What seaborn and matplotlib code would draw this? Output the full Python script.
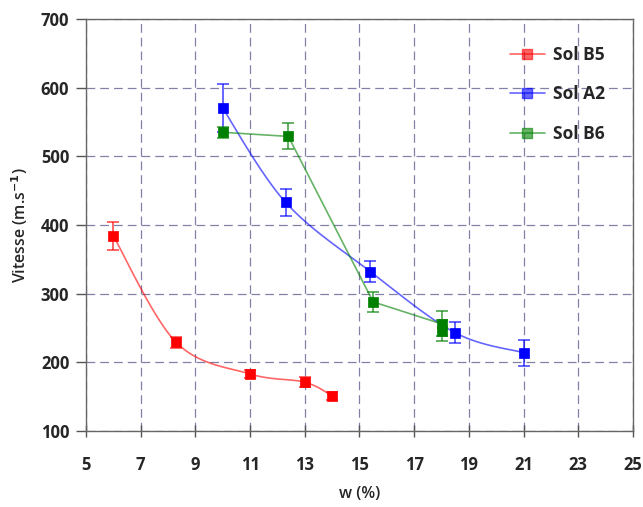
import numpy as np
import pandas as pd
import matplotlib
matplotlib.use("Agg")
import matplotlib.pyplot as plt
from matplotlib.lines import Line2D
import seaborn as sns

# data
b5_w = [6.0, 8.3, 11.0, 13.0, 14.0]
b5_v = [384, 229, 183, 171, 151]
b5_err = [20, 8, 6, 7, 6]

a2_w = [10.0, 12.3, 15.4, 18.5, 21.0]
a2_v = [570, 433, 332, 243, 214]
a2_err = [35, 20, 15, 15, 19]

b6_w = [10.0, 12.4, 15.5, 18.0, 18.0]
b6_v = [535, 529, 288, 256, 246]
b6_err = [8, 19, 15, 18, 15]

x_ticks = [5, 7, 9, 11, 13, 15, 17, 19, 21, 23, 25]
y_ticks = [100, 200, 300, 400, 500, 600, 700]


def smooth(x, y, n=30, t=0.5):
    # Excel-like smoothed line (cardinal spline through the points)
    x = np.asarray(x, float)
    y = np.asarray(y, float)
    px = np.concatenate([[x[0]], x, [x[-1]]])
    py = np.concatenate([[y[0]], y, [y[-1]]])
    xs, ys = [], []
    for i in range(1, len(px) - 2):
        s = np.linspace(0, 1, n)
        m1x = t * (px[i + 1] - px[i - 1])
        m1y = t * (py[i + 1] - py[i - 1])
        m2x = t * (px[i + 2] - px[i])
        m2y = t * (py[i + 2] - py[i])
        h00 = 2 * s**3 - 3 * s**2 + 1
        h10 = s**3 - 2 * s**2 + s
        h01 = -2 * s**3 + 3 * s**2
        h11 = s**3 - s**2
        xs.extend(h00 * px[i] + h10 * m1x + h01 * px[i + 1] + h11 * m2x)
        ys.extend(h00 * py[i] + h10 * m1y + h01 * py[i + 1] + h11 * m2y)
    return np.array(xs), np.array(ys)


sns.set_style("white")
plt.rcParams["font.family"] = ["Open Sans", "DejaVu Sans"]

fig = plt.figure(figsize=(6.43, 5.07), dpi=100)
ax = fig.add_axes([0.1337, 0.150, 0.8507, 0.8125])

series = [
    ("Sol B5", b5_w, b5_v, b5_err, "#ff0000", True),
    ("Sol A2", a2_w, a2_v, a2_err, "#0000ff", True),
    ("Sol B6", b6_w, b6_v, b6_err, "#008000", False),
]

handles = []
for name, w, v, e, col, smoothed in series:
    if smoothed:
        sx, sy = smooth(w, v)
    else:
        sx, sy = np.array(w, float), np.array(v, float)
    line_df = pd.DataFrame({"w": sx, "v": sy})
    sns.lineplot(data=line_df, x="w", y="v", sort=False, estimator=None,
                 color=col, alpha=0.6, lw=1.2, ax=ax, zorder=3)
    ax.errorbar(w, v, yerr=e, fmt="none", ecolor=col, alpha=0.7,
                elinewidth=1.2, capsize=4.5, capthick=1.2, zorder=4)
    pts = pd.DataFrame({"w": w, "v": v})
    sns.scatterplot(data=pts, x="w", y="v", marker="s", s=55, color=col,
                    edgecolor=col, linewidth=0.5, ax=ax, zorder=5)
    handles.append(Line2D([0], [0], color=col, lw=1.2, alpha=0.6,
                          marker="s", markersize=7, markerfacecolor=col,
                          markeredgecolor=col, label=name))

ax.set_xlim(5, 25)
ax.set_ylim(100, 700)
ax.set_xticks(x_ticks)
ax.set_yticks(y_ticks)
ax.grid(True, color="#8080a8", linestyle=(0, (7, 4)), linewidth=0.9)
ax.set_axisbelow(True)
for sp in ax.spines.values():
    sp.set_color("#666666")
    sp.set_linewidth(1.0)
    sp.set_visible(True)

ax.tick_params(axis="y", direction="out", length=7, width=1, color="#555555",
               labelsize=12, pad=5, left=True)
ax.tick_params(axis="x", direction="inout", length=8, width=1, color="#555555",
               labelsize=12, pad=14, bottom=True)
for lab in ax.get_xticklabels() + ax.get_yticklabels():
    lab.set_fontweight("bold")

ax.set_xlabel("w (%)", fontsize=11.5, fontweight="semibold", labelpad=9)
ax.set_ylabel("Vitesse (m.s$^{\\mathbf{-1}}$)", fontsize=11.5,
              fontweight="semibold", labelpad=8)

ax.legend(handles=handles, loc="upper left", frameon=False,
          prop={"weight": "bold", "size": 12.5}, labelspacing=1.25,
          handlelength=2.0, handletextpad=0.5, borderpad=0,
          borderaxespad=0, bbox_to_anchor=(0.775, 0.935))

fig.savefig("out.png", dpi=100)
